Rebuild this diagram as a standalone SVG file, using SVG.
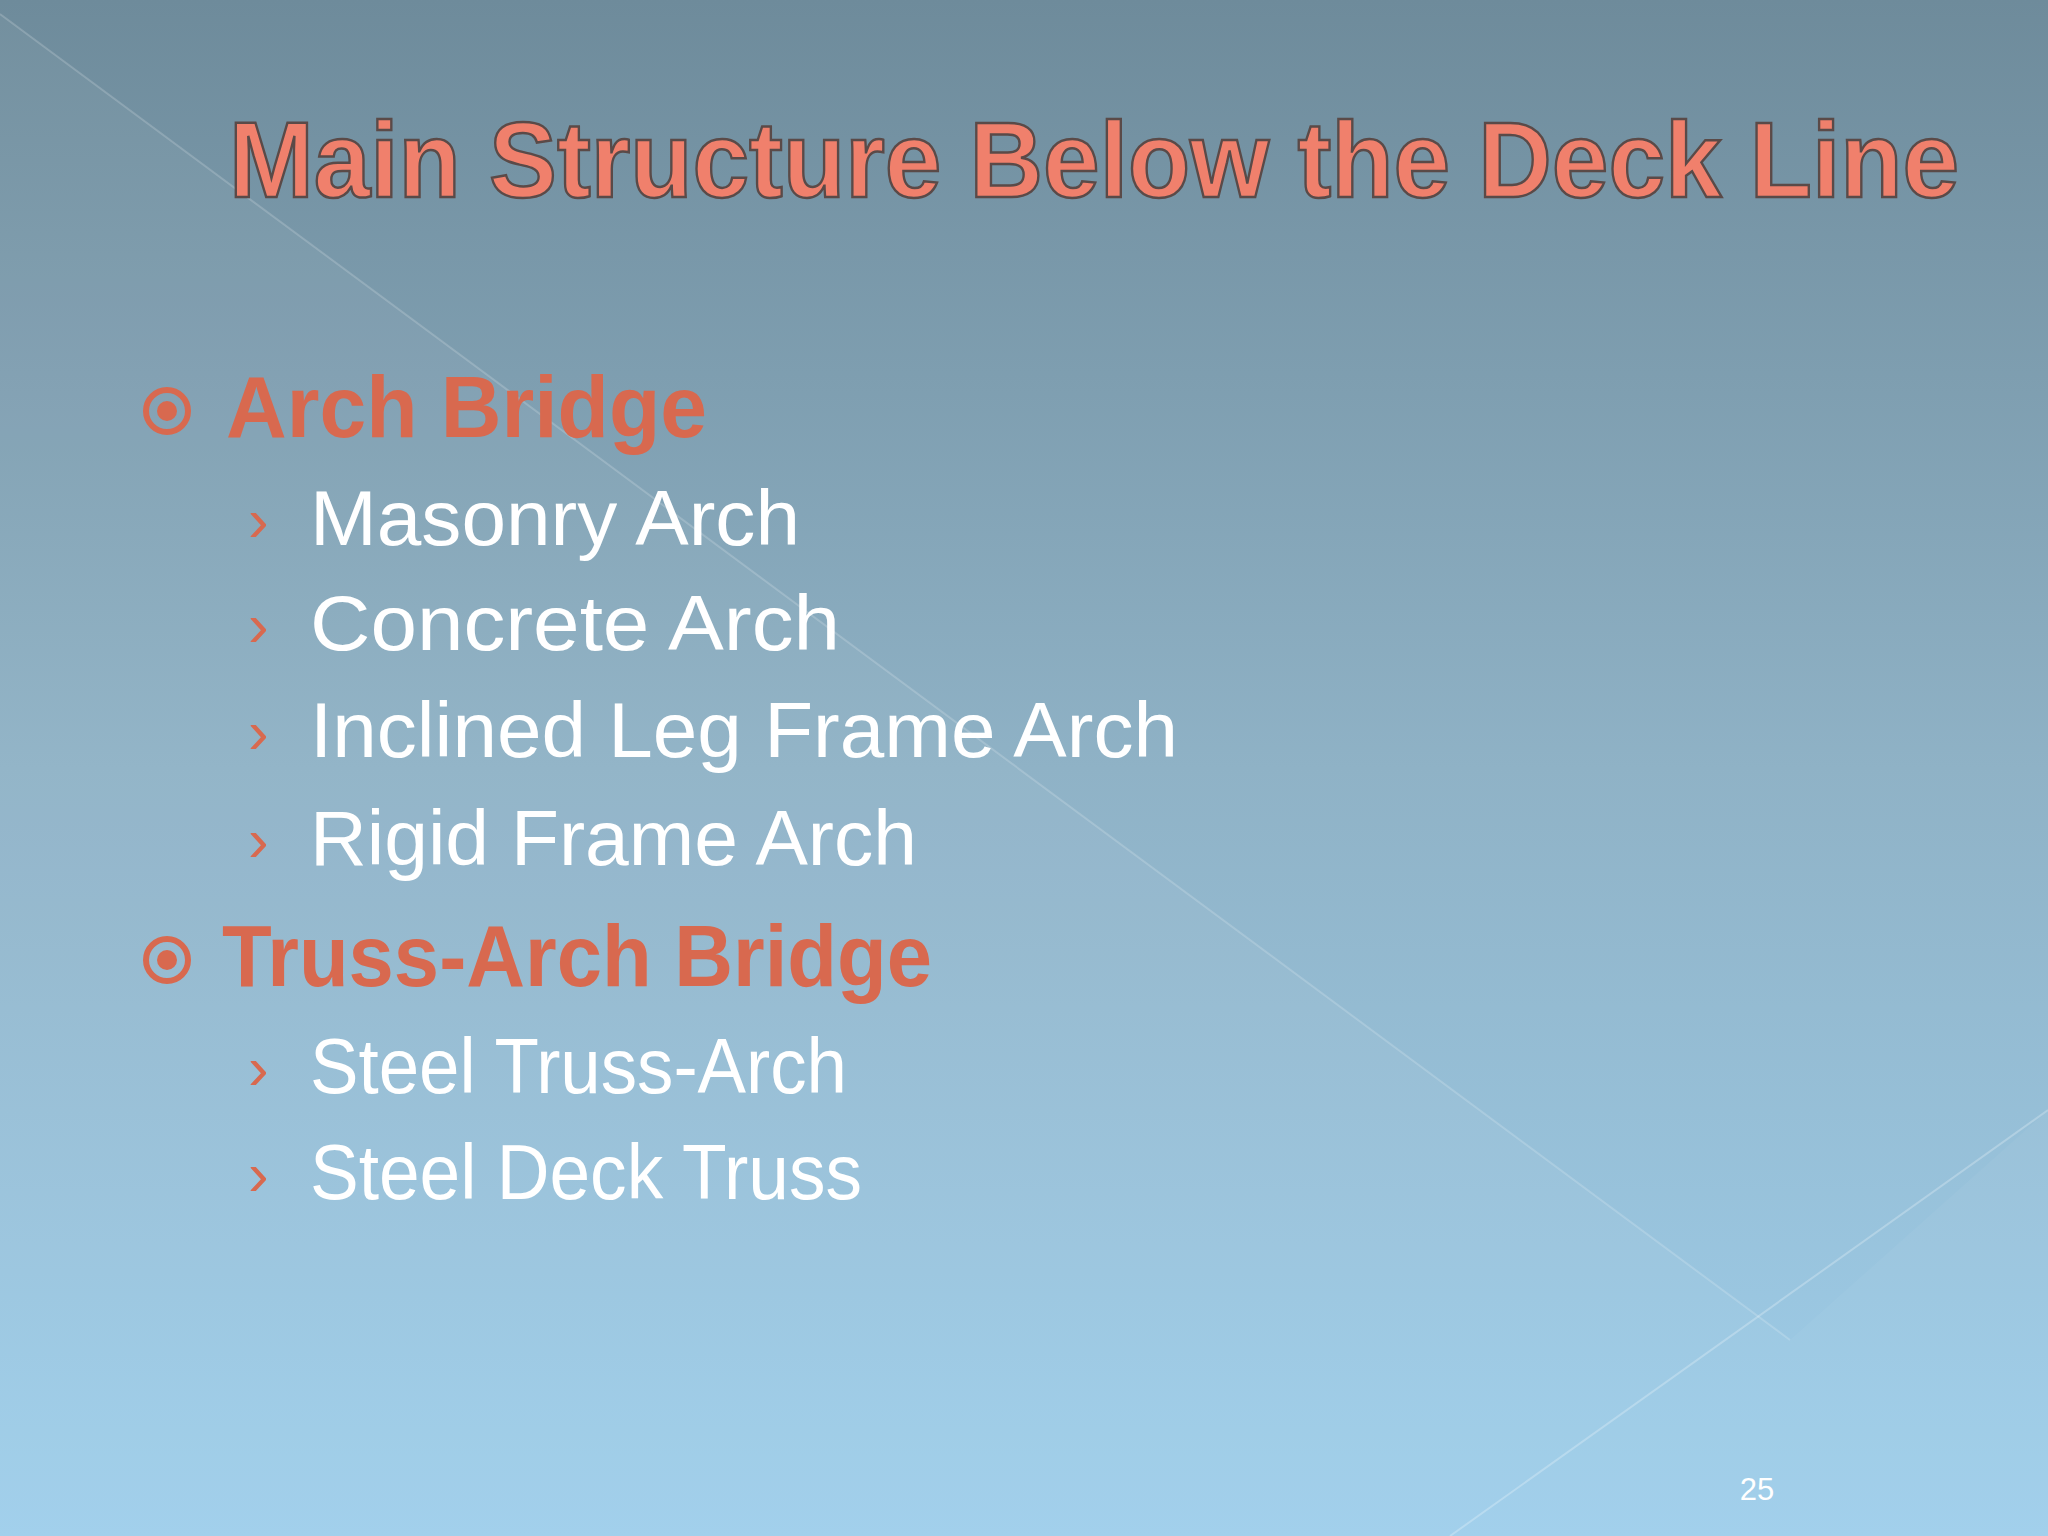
<svg xmlns="http://www.w3.org/2000/svg" width="2048" height="1536" viewBox="0 0 2048 1536">
<defs>
<linearGradient id="bg" x1="0" y1="0" x2="0" y2="1">
<stop offset="0" stop-color="#6E8B9B"/>
<stop offset="0.5" stop-color="#8FB2C6"/>
<stop offset="1" stop-color="#9FCFEC"/>
</linearGradient>
<style>
.t{font-family:"Liberation Sans",Arial,sans-serif;font-weight:bold;font-size:108px;fill:#F0806C;stroke:#5A4A48;stroke-width:2.5}
.h{font-family:"Liberation Sans",Arial,sans-serif;font-weight:bold;font-size:88px;fill:#D8694F}
.s{font-family:"Liberation Sans",Arial,sans-serif;font-size:78px;fill:#FFFFFF}
.c{font-family:"Liberation Sans",Arial,sans-serif;font-size:62px;fill:#D8694F}
</style>
</defs>
<rect width="2048" height="1536" fill="url(#bg)"/>
<polygon points="0,14 1790,1340 2048,1110 2048,1536 0,1536" fill="#FFFFFF" opacity="0.04"/>
<line x1="0" y1="14" x2="1790" y2="1340" stroke="#FFFFFF" stroke-opacity="0.18" stroke-width="2"/>
<line x1="1450" y1="1536" x2="2048" y2="1110" stroke="#FFFFFF" stroke-opacity="0.25" stroke-width="2"/>
<g id="title"><text class="t" x="229" y="197" textLength="1730" lengthAdjust="spacingAndGlyphs">Main Structure Below the Deck Line</text></g>
<g id="arch">
<circle cx="167" cy="411" r="21" fill="none" stroke="#D8694F" stroke-width="6"/>
<circle cx="167" cy="411" r="10" fill="#D8694F"/>
<text class="h" x="226" y="437" textLength="481" lengthAdjust="spacingAndGlyphs">Arch Bridge</text>
<text class="c" x="248" y="541">›</text><text class="s" x="310" y="545" textLength="490" lengthAdjust="spacingAndGlyphs">Masonry Arch</text>
<text class="c" x="248" y="646">›</text><text class="s" x="310" y="650" textLength="530" lengthAdjust="spacingAndGlyphs">Concrete Arch</text>
<text class="c" x="248" y="753">›</text><text class="s" x="310" y="757" textLength="868" lengthAdjust="spacingAndGlyphs">Inclined Leg Frame Arch</text>
<text class="c" x="248" y="861">›</text><text class="s" x="310" y="865" textLength="607" lengthAdjust="spacingAndGlyphs">Rigid Frame Arch</text>
</g>
<g id="truss">
<circle cx="167" cy="960" r="21" fill="none" stroke="#D8694F" stroke-width="6"/>
<circle cx="167" cy="960" r="10" fill="#D8694F"/>
<text class="h" x="222" y="986" textLength="710" lengthAdjust="spacingAndGlyphs">Truss-Arch Bridge</text>
<text class="c" x="248" y="1089">›</text><text class="s" x="310" y="1093" textLength="537" lengthAdjust="spacingAndGlyphs">Steel Truss-Arch</text>
<text class="c" x="248" y="1195">›</text><text class="s" x="310" y="1199" textLength="552" lengthAdjust="spacingAndGlyphs">Steel Deck Truss</text>
</g>
<text x="1757" y="1500" font-family="Liberation Sans,Arial,sans-serif" font-size="31" fill="#FFFFFF" text-anchor="middle">25</text>
</svg>
